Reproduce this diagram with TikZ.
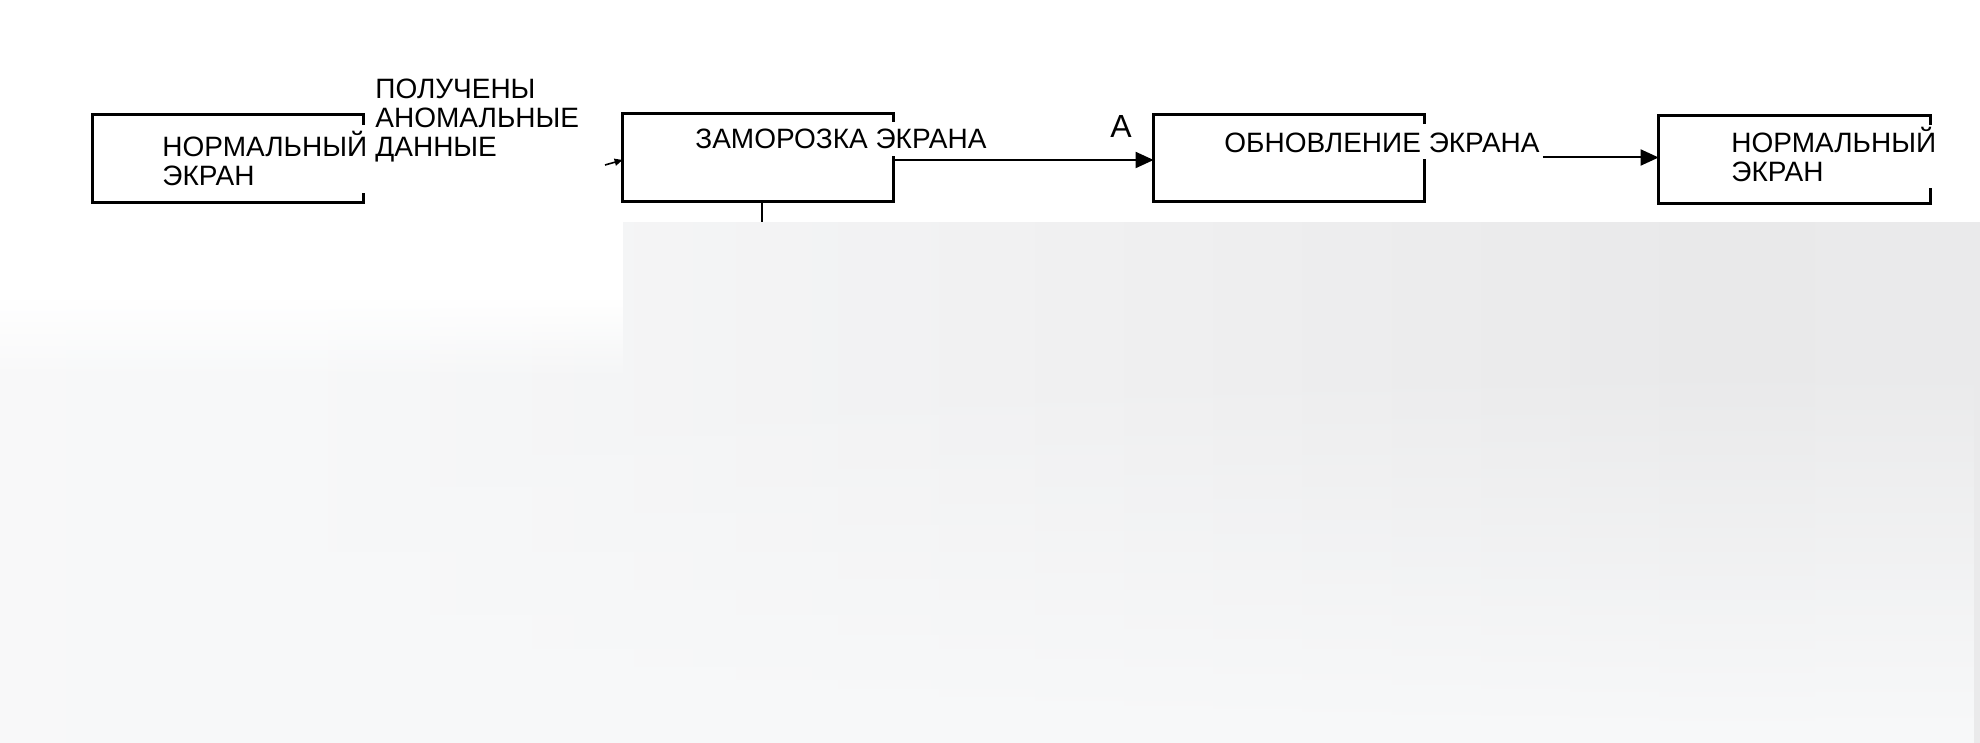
\documentclass[tikz,border=0pt]{standalone}
\usepackage{fontspec}
\setmainfont{Liberation Sans}
\usetikzlibrary{arrows.meta,calc,fadings}
\definecolor{bgF}{HTML}{F8F9FA}
\definecolor{s0}{HTML}{FAFAFB}
\definecolor{s1}{HTML}{F7F8F9}
\definecolor{s2}{HTML}{F1F1F2}
\definecolor{s3}{HTML}{E9E9EA}
\definecolor{s4}{HTML}{ECECED}
\definecolor{s5}{HTML}{F0F0F1}
\pgfdeclarehorizontalshading{bgh}{100bp}{color(0bp)=(s0); color(32bp)=(s1); color(50bp)=(s2); color(68bp)=(s3); color(85bp)=(s4); color(100bp)=(s5)}
\tikzset{
  box/.style={draw=none, minimum width=135pt, minimum height=43.5pt, inner sep=0pt},
  frame/.style={line width=1.5pt, line join=miter},
  txt/.style={inner sep=0pt, anchor=base west, font=\fontsize{14}{15}\selectfont},
  bigtxt/.style={inner sep=0pt, anchor=base west, font=\fontsize{16}{18}\selectfont},
  arr/.style={line width=1pt, -{Triangle[length=9pt,width=8pt]}},
  smallarr/.style={line width=0.8pt, -{Triangle[length=4pt,width=3.5pt]}},
  thinline/.style={line width=1pt}
}
\begin{document}
\begin{tikzpicture}[x=0.5pt,y=-0.5pt]
\useasboundingbox (0,0) rectangle (1980,743);
% background
\shade[shading=bgh] (0,0) rectangle (1980,743);
\fill[bgF, path fading=north] (0,360) rectangle (1980,743);
\fill[white] (0,0) rectangle (1980,222);
\fill[white] (0,222) rectangle (623,300);
\fill[white, path fading=south] (0,299) rectangle (623,380);
% boxes
\node[box] (b1) at (228,158.5) {};
\node[box] (b2) at (758,157.5) {};
\node[box] (b3) at (1289,158) {};
\node[box, minimum width=135.5pt] (b4) at (1794.5,159.5) {};
\draw[frame] ($(b1.north east)+(0,10)$) -- (b1.north east) -- (b1.north west) -- (b1.south west) -- (b1.south east) -- ($(b1.south east)+(0,-9)$);
\draw[frame] ($(b2.north east)+(0,8)$) -- (b2.north east) -- (b2.north west) -- (b2.south west) -- (b2.south east) -- ($(b2.south east)+(0,-45)$);
\draw[frame] ($(b3.north east)+(0,10)$) -- (b3.north east) -- (b3.north west) -- (b3.south west) -- (b3.south east) -- ($(b3.south east)+(0,-43)$);
\draw[frame] ($(b4.north east)+(0,9)$) -- (b4.north east) -- (b4.north west) -- (b4.south west) -- (b4.south east) -- ($(b4.south east)+(0,-15)$);
% texts
\node[txt] (t1a) at (162,157) {НОРМАЛЬНЫЙ};
\node[txt] (t1b) at (162,186) {ЭКРАН};
\node[txt] (l1a) at (375,99) {ПОЛУЧЕНЫ};
\node[txt] (l1b) at (375,128) {АНОМАЛЬНЫЕ};
\node[txt] (l1c) at (375,157) {ДАННЫЕ};
\node[txt] (t2) at (695,149) {ЗАМОРОЗКА ЭКРАНА};
\node[bigtxt] (la) at (1110,138) {A};
\node[txt] (t3) at (1224,153) {ОБНОВЛЕНИЕ ЭКРАНА};
\node[txt] (t4a) at (1731,153) {НОРМАЛЬНЫЙ};
\node[txt] (t4b) at (1731,182) {ЭКРАН};
% connectors
\coordinate (in2) at (605,165);
\draw[smallarr] (in2) -- ($(b2.west)+(0,2.5)$);
\coordinate (c2) at ($(b2.east)+(0,2.5)$);
\draw[arr] (c2) -- (c2 -| b3.west);
\coordinate (c3) at ($(t3.base east)+(3,4.5)$);
\draw[arr] (c3) -- (c3 -| b4.west);
\coordinate (v2) at (762,222);
\draw[thinline] ($(b2.south)+(4,0)$) -- (v2);
\end{tikzpicture}
\end{document}
